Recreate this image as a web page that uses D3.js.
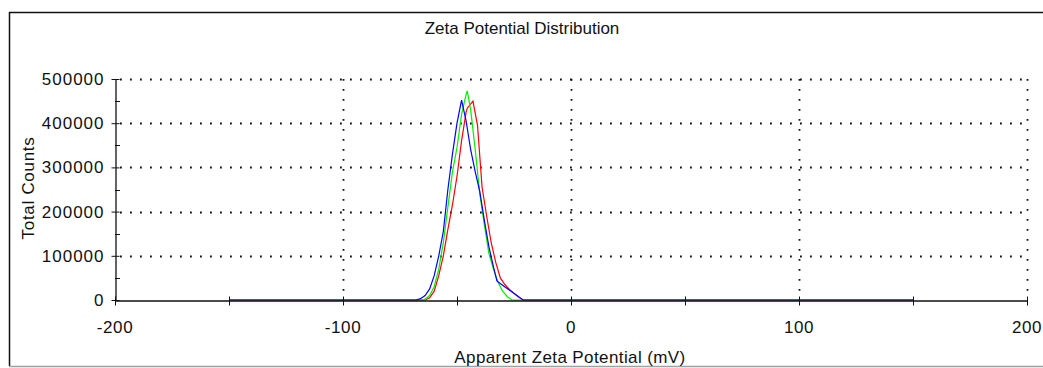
<!DOCTYPE html>
<html>
<head>
<meta charset="utf-8">
<script src="https://cdn.jsdelivr.net/npm/d3@7"></script>
<style>
  html, body { margin: 0; padding: 0; background: #fff; }
  svg { display: block; font-family: "Liberation Sans", Arial, sans-serif; }
</style>
</head>
<body>
<svg id="chart" width="1043" height="368"></svg>
<script>
// Zeta potential (mV) sample points and total counts for each measured run
const redX = [-150, -64, -62, -60, -58, -56, -54, -52, -50, -48, -46, -45.5, -43, -41, -39, -37, -35, -33, -31, -29, -27, -25, -23, -21, 150];
const redY = [0, 0, 5000, 20000, 55000, 100000, 160000, 215000, 280000, 360000, 425000, 434000, 450000, 395000, 255000, 190000, 130000, 85000, 50000, 35000, 24000, 15000, 7000, 0, 0];

const greenX = [-150, -65, -64, -62, -60, -58, -56, -54, -52, -50, -48, -46, -45.5, -44, -42, -40, -38, -36, -34, -32, -30, -28, -26, 150];
const greenY = [0, 0, 2000, 10000, 30000, 70000, 130000, 210000, 290000, 345000, 420000, 465000, 473000, 430000, 340000, 240000, 170000, 105000, 70000, 40000, 20000, 8000, 0, 0];

const blueX = [-150, -68, -66, -64, -62, -60, -58, -56, -54, -52, -50, -48, -46, -44, -42, -40, -38, -36, -34, -32.5, -30, -28, -26, -24, -22, -21, 150];
const blueY = [0, 0, 3000, 10000, 25000, 55000, 100000, 155000, 250000, 330000, 400000, 452000, 405000, 340000, 290000, 245000, 180000, 120000, 75000, 43000, 33600, 26000, 18700, 11200, 3700, 0, 0];

const xTicks = [-200, -100, 0, 100, 200];
const xMinorTicks = [-200, -150, -100, -50, 0, 50, 100, 150, 200];
const yTicks = [0, 100000, 200000, 300000, 400000, 500000];
const yMinorTicks = [50000, 150000, 250000, 350000, 450000];

const series = [
  { xs: redX, ys: redY, color: "#ff0000" },
  { xs: greenX, ys: greenY, color: "#00ee00" },
  { xs: blueX, ys: blueY, color: "#0000ff" }
];

const svg = d3.select("#chart");
const plotLeft = 115, plotRight = 1027, plotTop = 79, plotBottom = 300;
const ink = "#111";

const x = d3.scaleLinear().domain([-200, 200]).range([plotLeft, plotRight]);
const y = d3.scaleLinear().domain([0, 500000]).range([plotBottom, plotTop]);

// outer frame
svg.append("line").attr("x1", 9).attr("x2", 1043).attr("y1", 12.5).attr("y2", 12.5)
  .attr("stroke", ink).attr("stroke-width", 1.5);
svg.append("line").attr("x1", 9.5).attr("x2", 9.5).attr("y1", 12).attr("y2", 366)
  .attr("stroke", ink).attr("stroke-width", 1.5);
svg.append("line").attr("x1", 9).attr("x2", 1043).attr("y1", 366.5).attr("y2", 366.5)
  .attr("stroke", "#a0a0a0").attr("stroke-width", 1.5);

// title
svg.append("text").attr("x", 522).attr("y", 34).attr("text-anchor", "middle")
  .attr("font-size", 17).attr("fill", ink).text("Zeta Potential Distribution");

// dotted grid
const grid = svg.append("g").attr("stroke", ink).attr("stroke-width", 1.8)
  .attr("stroke-dasharray", "1.8 8.2");
grid.selectAll("line.h").data(yTicks.filter(d => d > 0)).join("line")
  .attr("x1", plotLeft + 5).attr("x2", plotRight)
  .attr("y1", d => Math.round(y(d)) + 0.5).attr("y2", d => Math.round(y(d)) + 0.5);
grid.selectAll("line.v").data(xTicks.filter(d => d > -200)).join("line")
  .attr("x1", d => Math.round(x(d)) + 0.5).attr("x2", d => Math.round(x(d)) + 0.5)
  .attr("y1", plotTop).attr("y2", plotBottom - 4);

// data lines
const line = d3.line().x(d => x(d[0])).y(d => y(d[1]));
series.forEach(s => {
  svg.append("path")
    .datum(s.xs.map((v, i) => [v, s.ys[i]]))
    .attr("fill", "none").attr("stroke", s.color).attr("stroke-width", 1.2)
    .attr("d", line);
});

// x axis
const xAxis = svg.append("g").attr("transform", `translate(0,${plotBottom + 0.5})`)
  .call(d3.axisBottom(x).tickValues(xMinorTicks).tickSize(4).tickSizeOuter(0).tickFormat(""));
xAxis.select(".domain").attr("stroke", ink).attr("stroke-width", 1.3);
xAxis.selectAll(".tick line").attr("stroke", ink).attr("y1", -4).attr("y2", 5);
svg.append("g").selectAll("text").data(xTicks).join("text")
  .attr("x", d => x(d)).attr("y", 333).attr("text-anchor", "middle")
  .attr("font-size", 17).attr("letter-spacing", 0.6).attr("fill", ink).text(d => d);

// y axis
const yAxis = svg.append("g").attr("transform", `translate(${plotLeft + 0.5},0)`)
  .call(d3.axisLeft(y).tickValues(yTicks).tickFormat(d3.format("d"))
    .tickSize(4).tickSizeOuter(0).tickPadding(7));
yAxis.select(".domain").attr("stroke", ink).attr("stroke-width", 1.3);
yAxis.selectAll(".tick line").attr("stroke", ink).attr("x1", -4).attr("x2", 4);
yAxis.selectAll(".tick text").attr("font-size", 17).attr("letter-spacing", 1).attr("fill", ink)
  .attr("font-family", "Liberation Sans, Arial, sans-serif");
svg.append("g").selectAll("line").data(yMinorTicks).join("line")
  .attr("x1", plotLeft).attr("x2", plotLeft + 5)
  .attr("y1", d => Math.round(y(d)) + 0.5).attr("y2", d => Math.round(y(d)) + 0.5)
  .attr("stroke", ink);

// axis titles
svg.append("text").attr("x", 570).attr("y", 363).attr("text-anchor", "middle")
  .attr("font-size", 17).attr("letter-spacing", 0.4).attr("fill", ink)
  .text("Apparent Zeta Potential (mV)");
svg.append("text").attr("transform", "translate(34,188) rotate(-90)")
  .attr("text-anchor", "middle").attr("font-size", 17).attr("letter-spacing", 0.7)
  .attr("fill", ink).text("Total Counts");
</script>
</body>
</html>
